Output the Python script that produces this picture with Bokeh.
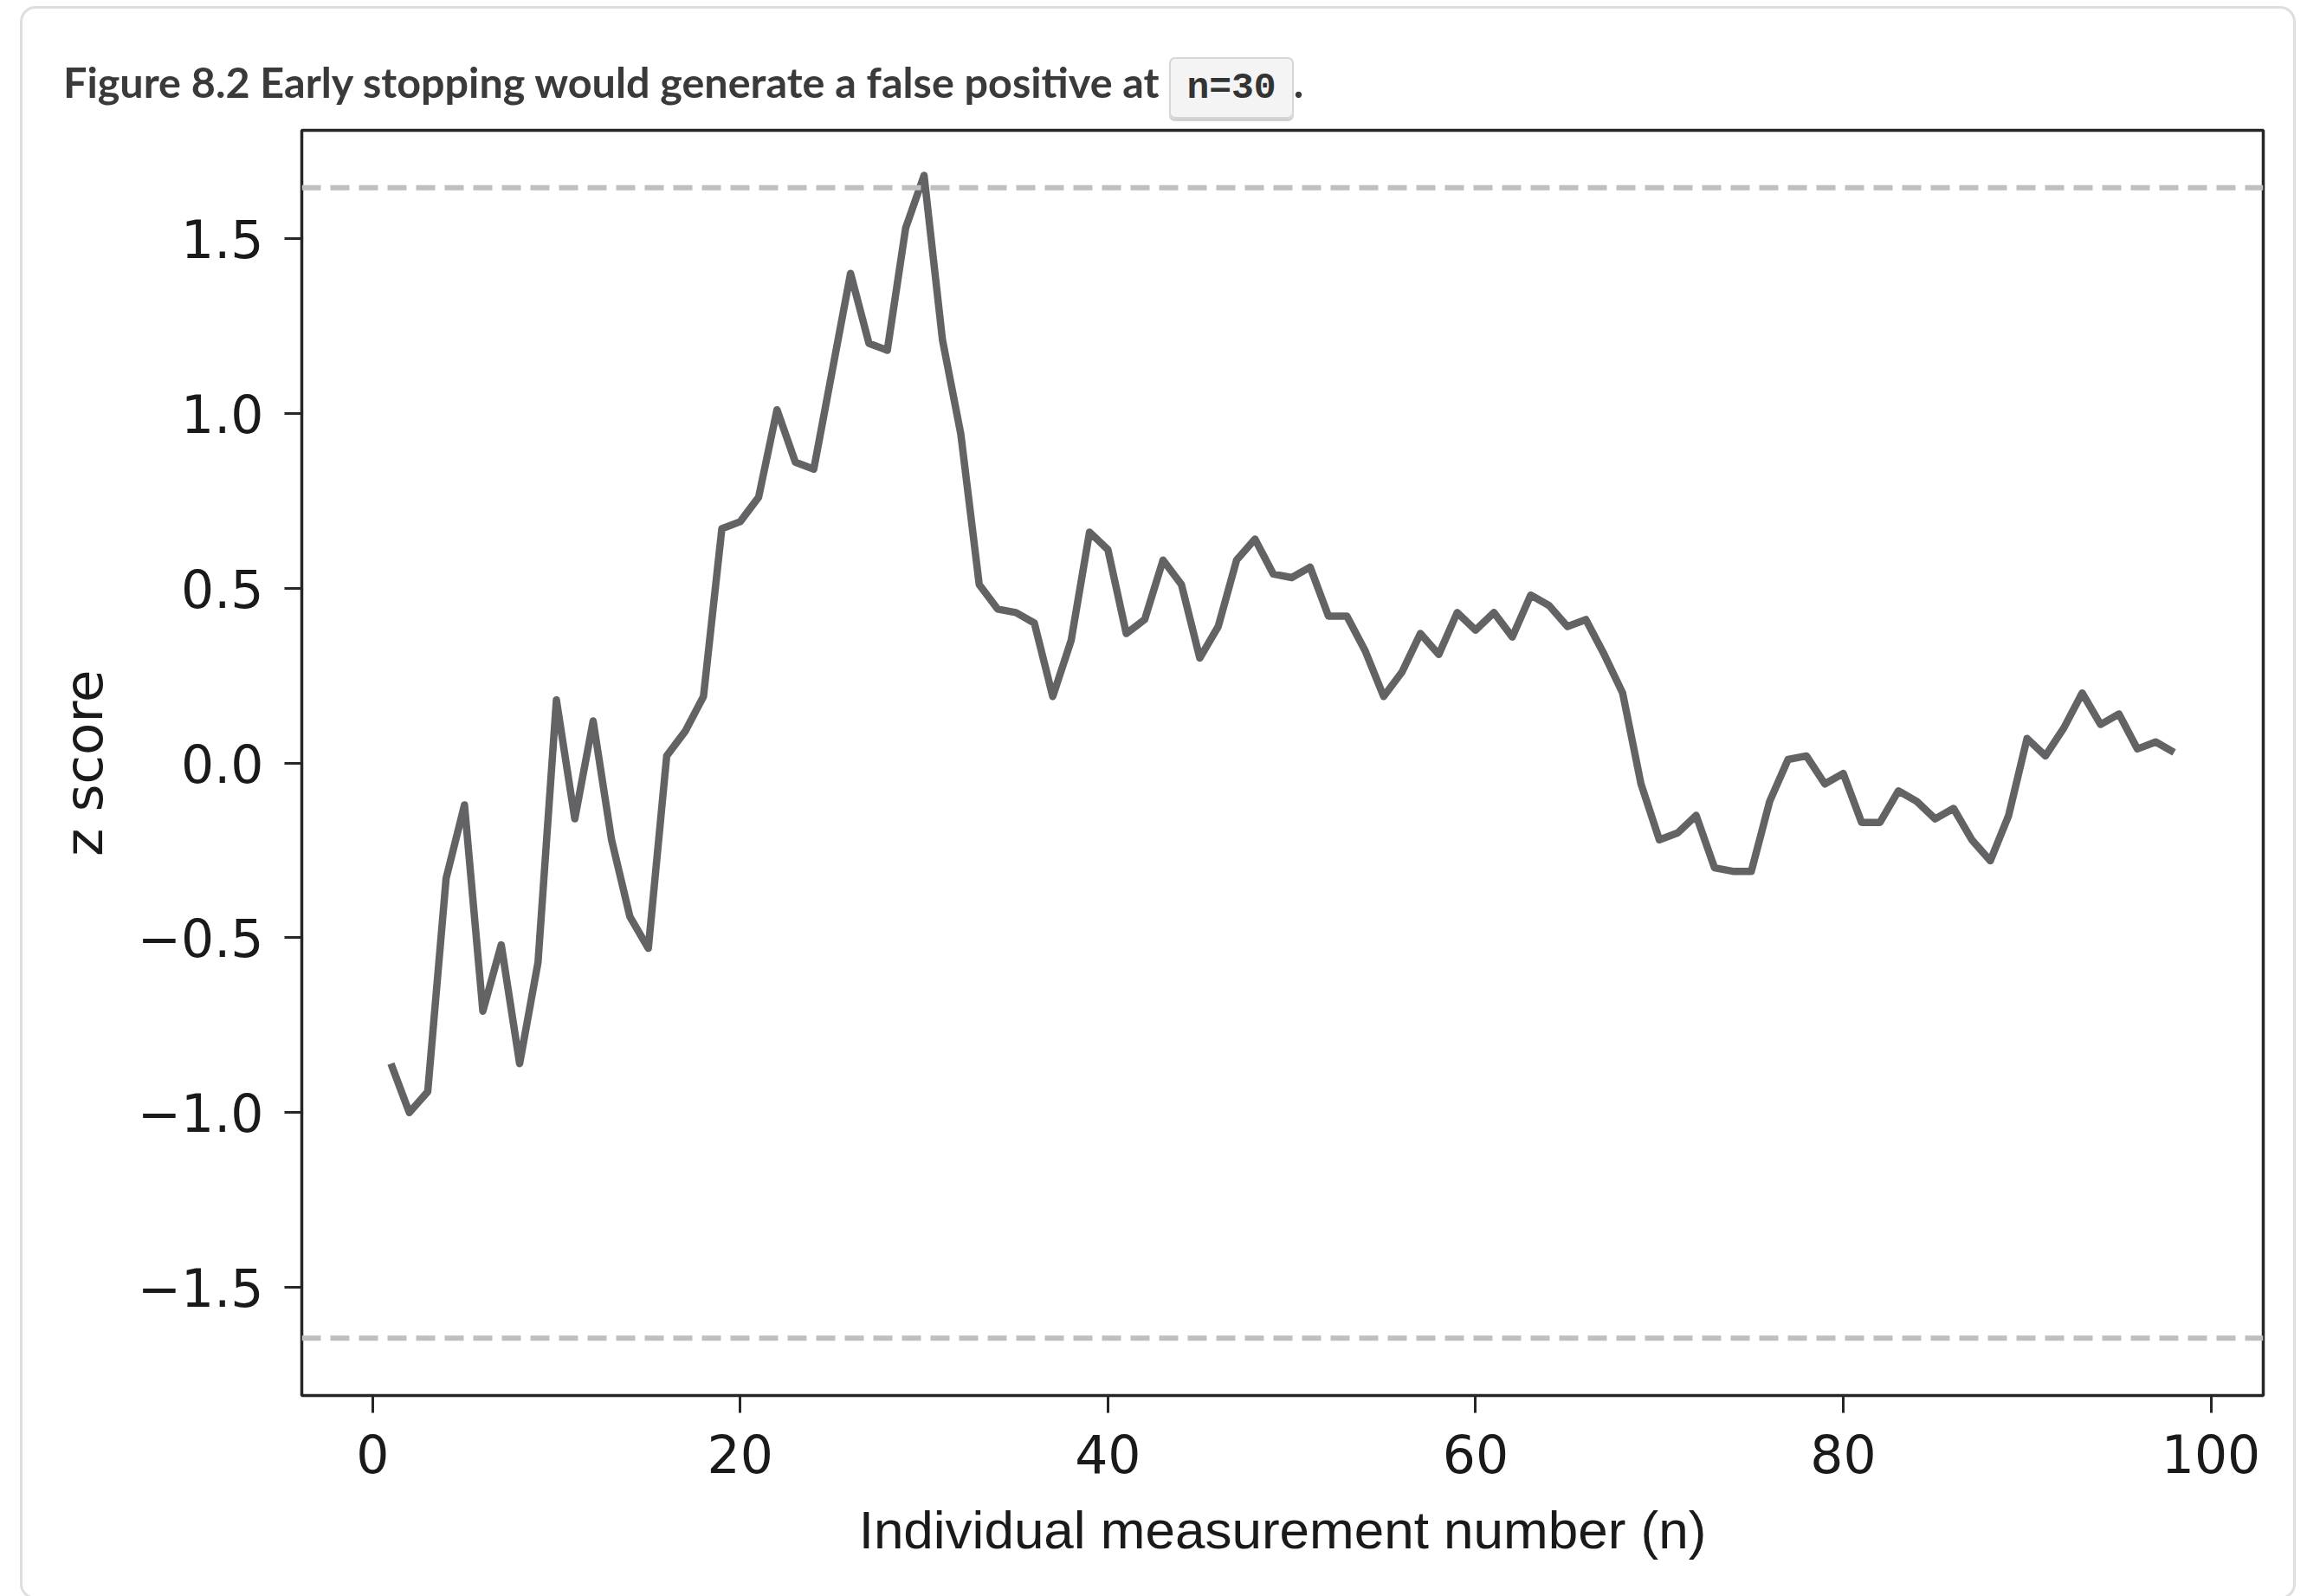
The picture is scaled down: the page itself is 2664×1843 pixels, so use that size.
from bokeh.plotting import figure
from bokeh.models import Range1d, FixedTicker, Span, Div
from bokeh.layouts import column
from bokeh.embed import file_html
from bokeh.resources import INLINE

# Running z score after each individual measurement
n_values = list(range(1, 99))
z_scores = [
    -0.86, -1.00, -0.94, -0.33, -0.12, -0.71, -0.52, -0.86, -0.57, 0.18,
    -0.16, 0.12, -0.22, -0.44, -0.53, 0.02, 0.09, 0.19, 0.67, 0.69,
    0.76, 1.01, 0.86, 0.84, 1.12, 1.40, 1.20, 1.18, 1.53, 1.68,
    1.21, 0.94, 0.51, 0.44, 0.43, 0.40, 0.19, 0.35, 0.66, 0.61,
    0.37, 0.41, 0.58, 0.51, 0.30, 0.39, 0.58, 0.64, 0.54, 0.53,
    0.56, 0.42, 0.42, 0.32, 0.19, 0.26, 0.37, 0.31, 0.43, 0.38,
    0.43, 0.36, 0.48, 0.45, 0.39, 0.41, 0.31, 0.20, -0.06, -0.22,
    -0.20, -0.15, -0.30, -0.31, -0.31, -0.11, 0.01, 0.02, -0.06, -0.03,
    -0.17, -0.17, -0.08, -0.11, -0.16, -0.13, -0.22, -0.28, -0.15, 0.07,
    0.02, 0.10, 0.20, 0.11, 0.14, 0.04, 0.06, 0.03,
]

# One-sided 95% significance thresholds
thresholds = [1.645, -1.645]

x_ticks = [0, 20, 40, 60, 80, 100]
y_ticks = [-1.5, -1.0, -0.5, 0.0, 0.5, 1.0, 1.5]
y_tick_labels = ["\u22121.5", "\u22121.0", "\u22120.5", "0.0", "0.5", "1.0", "1.5"]

title_text = "Figure 8.2 Early stopping would generate a false positive at"
code_text = "n=30"

W, H = 2664, 1843
HEADER_H = 140

# Caption above the chart, with the inline code snippet and the card outline
header_html = f"""
<div style="position:fixed; left:23px; top:7px; width:2628px; height:1840px; z-index:10;
            border:3px solid #dedede; border-radius:18px; box-sizing:border-box;
            pointer-events:none;"></div>
<div style="padding-left:73px; padding-top:70px; font-family:Lato; font-weight:bold;
            font-size:48.5px; line-height:48px; color:#3a3a3a; white-space:nowrap;">{title_text}
<code style="font-family:'Liberation Mono'; font-weight:bold; font-size:43px; color:#333333;
             background:#f4f4f4; border:2px solid #d6d6d6; border-radius:7px;
             padding:9px 18px; margin-left:0px; box-shadow:0 3px 1px #cfcfcf;">{code_text}</code>.</div>
"""
header = Div(text=header_html, width=W, height=HEADER_H,
             styles={"margin": "0", "padding": "0"})

p = figure(
    width=W, height=H - HEADER_H,
    output_backend="svg", toolbar_location=None,
    x_range=Range1d(-3.85, 102.85), y_range=Range1d(-1.809, 1.809),
    min_border_left=348, min_border_right=51,
    min_border_top=10, min_border_bottom=232,
    background_fill_color="white", border_fill_alpha=0,
)
p.grid.visible = False
p.outline_line_color = "#262626"
p.outline_line_width = 3.5

for ax in (p.xaxis[0], p.yaxis[0]):
    ax.axis_line_color = None
    ax.major_tick_in = 0
    ax.major_tick_out = 20
    ax.major_tick_line_width = 3
    ax.major_tick_line_color = "#262626"
    ax.minor_tick_line_color = None
    ax.major_label_text_font = "DejaVu Sans"
    ax.major_label_text_font_size = "60px"
    ax.major_label_text_color = "#1a1a1a"
    ax.axis_label_text_font_style = "normal"
    ax.axis_label_text_color = "#1a1a1a"

p.xaxis.ticker = FixedTicker(ticks=x_ticks)
p.yaxis.ticker = FixedTicker(ticks=y_ticks)
p.yaxis.major_label_overrides = {t: s for t, s in zip(y_ticks, y_tick_labels)}
p.xaxis.major_label_standoff = 24
p.yaxis.major_label_standoff = 24

p.xaxis.axis_label = "Individual measurement number (n)"
p.xaxis.axis_label_text_font = "Liberation Sans"
p.xaxis.axis_label_text_font_size = "62px"
p.xaxis.axis_label_standoff = 28

p.yaxis.axis_label = "z score"
p.yaxis.axis_label_text_font = "DejaVu Sans"
p.yaxis.axis_label_text_font_size = "61px"
p.yaxis.axis_label_standoff = 24

# Threshold lines
for t in thresholds:
    p.add_layout(Span(location=t, dimension="width", line_color="#bfbfbf",
                      line_width=6, line_dash="22 11"))

# Running z score
p.line(n_values, z_scores, line_color="#636366", line_width=8.5, line_join="round")

layout = column(header, p, spacing=0)
open("out.html", "w").write(file_html(layout, INLINE))
